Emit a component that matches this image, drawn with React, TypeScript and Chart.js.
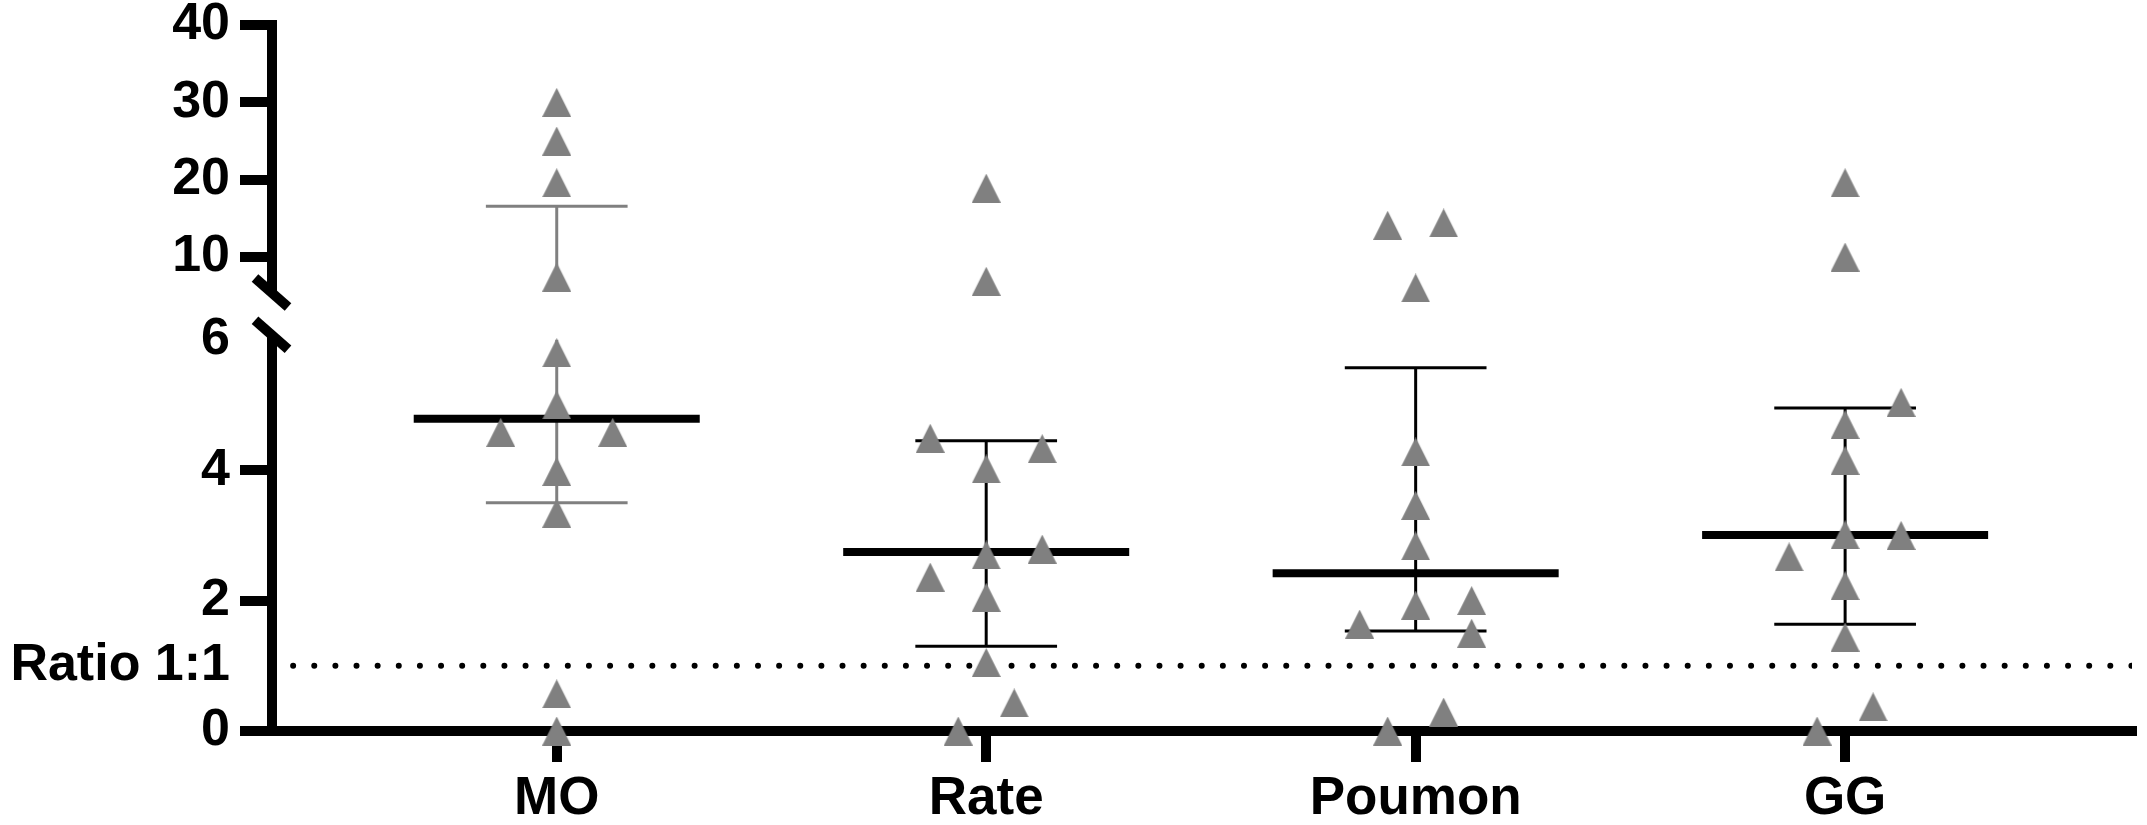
import React, { useEffect, useRef } from "react";
import { Chart, registerables } from "chart.js";

Chart.register(...registerables);

// ---------- data ----------
const categories = ["MO", "Rate", "Poumon", "GG"];

const moValues = [30, 25, 19.6, 7.4, 5.8, 5.0, 4.58, 4.58, 3.98, 3.34, 0.57, 0];
const rateValues = [18.9, 6.86, 4.49, 4.33, 4.02, 2.79, 2.7, 2.36, 2.05, 1.05, 0.43, 0];
const poumonValues = [14.4, 14.1, 6.0, 4.28, 3.46, 2.84, 2.0, 1.93, 1.64, 1.5, 0.29, 0];
const ggValues = [19.6, 10.0, 5.04, 4.7, 4.15, 3.01, 3.0, 2.67, 2.23, 1.44, 0.37, 0];

// column-scatter jitter slots (layout only, in symbol-slot units)
const moSlots = [0, 0, 0, 0, 0, 0, -2, 2, 0, 0, 0, 0];
const rateSlots = [0, 0, -2, 2, 0, 2, 0, -2, 0, 0, 1, -1];
const poumonSlots = [1, -1, 0, 0, 0, 0, 2, 0, -2, 2, 1, -1];
const ggSlots = [0, 0, 2, 0, 0, 0, 2, -2, 0, 0, 1, -1];

const lowTicks = [0, 2, 4, 6];
const highTicks = [10, 20, 30, 40];
const ratioValue = 1;
const ratioLabel = "Ratio 1:1";

// ---------- axis layout ----------
const breakValue = 6; // values >= breakValue sit on the upper segment
const lowMin = 0;
const lowMax = 6.4;
const highMin = 2.67;
const highMax = 40;
const xMin = -0.663;
const xMax = 3.668;
const upperSegmentEnd = 5.35;
const lowerSegmentStart = 6.07;
const lowPxPerUnit = 65.2;
const highPxPerUnit = 7.733;
const unmarkedLowTicks = [ratioValue, 6];

// ---------- styles ----------
const FONT = "'Liberation Sans', Arial, Helvetica, sans-serif";
const GREY = "#808080";
const errorColors = [GREY, "#000000", "#000000", "#000000"];
const SLOT = 0.0652;
const MEDIAN_HALF = 0.333;
const CAP_HALF = 0.165;

const groupValues = [moValues, rateValues, poumonValues, ggValues];
const groupSlots = [moSlots, rateSlots, poumonSlots, ggSlots];

function quantile(values: number[], p: number) {
  const s = [...values].sort((a, b) => a - b);
  const pos = (s.length + 1) * p;
  const lo = Math.floor(pos);
  const frac = pos - lo;
  if (lo < 1) return s[0];
  if (lo >= s.length) return s[s.length - 1];
  return s[lo - 1] + frac * (s[lo] - s[lo - 1]);
}

function makeTriangle() {
  const c = document.createElement("canvas");
  c.width = 29;
  c.height = 29;
  const g = c.getContext("2d")!;
  g.fillStyle = GREY;
  g.beginPath();
  g.moveTo(14.5, 0);
  g.lineTo(29, 29);
  g.lineTo(0, 29);
  g.closePath();
  g.fill();
  return c;
}

const axisBreakPlugin = {
  id: "axisBreak",
  beforeDatasetsDraw(chart: any) {
    const { ctx, scales } = chart;
    const yHigh = scales.yHigh;
    const yLow = scales.yLow;
    const x = chart.chartArea.left;
    const yTop = yHigh.getPixelForValue(upperSegmentEnd);
    const yBot = yLow.getPixelForValue(lowerSegmentStart);
    ctx.save();
    ctx.fillStyle = "#ffffff";
    ctx.fillRect(x - 8, yTop, 16, yBot - yTop);
    ctx.strokeStyle = "#000000";
    ctx.lineWidth = 10;
    ctx.lineCap = "butt";
    for (const y of [yTop, yBot]) {
      ctx.beginPath();
      ctx.moveTo(x - 17, y - 15);
      ctx.lineTo(x + 16, y + 14);
      ctx.stroke();
    }
    ctx.restore();
  },
};

function buildDatasets(tri: HTMLCanvasElement) {
  const lowPts: { x: number; y: number }[] = [];
  const highPts: { x: number; y: number }[] = [];
  groupValues.forEach((vals, gi) => {
    vals.forEach((v, k) => {
      const p = { x: gi + groupSlots[gi][k] * SLOT, y: v };
      if (v >= breakValue) highPts.push(p);
      else lowPts.push(p);
    });
  });

  const datasets: any[] = [];
  const pointCommon = {
    pointStyle: tri,
    pointRadius: 15,
    pointHoverRadius: 15,
    backgroundColor: GREY,
    borderWidth: 0,
    showLine: false,
    clip: false,
    order: 0,
  };
  datasets.push({ ...pointCommon, label: "low", data: lowPts, xAxisID: "x", yAxisID: "yLow" });
  datasets.push({ ...pointCommon, label: "high", data: highPts, xAxisID: "x", yAxisID: "yHigh" });

  const seg = (x1: number, y1: number, x2: number, y2: number, color: string, width: number, order: number) => {
    const common = {
      showLine: true,
      pointRadius: 0,
      pointHoverRadius: 0,
      borderColor: color,
      borderWidth: width,
      borderCapStyle: "butt",
      fill: false,
      tension: 0,
      clip: false,
      order,
      xAxisID: "x",
    };
    const lo = Math.min(y1, y2);
    const hi = Math.max(y1, y2);
    if (hi < breakValue) {
      datasets.push({ ...common, data: [{ x: x1, y: y1 }, { x: x2, y: y2 }], yAxisID: "yLow" });
    } else if (lo >= breakValue) {
      datasets.push({ ...common, data: [{ x: x1, y: y1 }, { x: x2, y: y2 }], yAxisID: "yHigh" });
    } else {
      datasets.push({ ...common, data: [{ x: x1, y: lo }, { x: x1, y: breakValue }], yAxisID: "yLow" });
      datasets.push({ ...common, data: [{ x: x1, y: breakValue }, { x: x1, y: hi }], yAxisID: "yHigh" });
    }
  };

  groupValues.forEach((vals, gi) => {
    const med = quantile(vals, 0.5);
    const q1 = quantile(vals, 0.25);
    const q3 = quantile(vals, 0.75);
    const col = errorColors[gi];
    seg(gi, q1, gi, q3, col, 3, 2);
    seg(gi - CAP_HALF, q1, gi + CAP_HALF, q1, col, 3, 2);
    seg(gi - CAP_HALF, q3, gi + CAP_HALF, q3, col, 3, 2);
    seg(gi - MEDIAN_HALF, med, gi + MEDIAN_HALF, med, "#000000", 8, 1);
  });

  datasets.push({
    label: "ratio",
    data: [
      { x: xMin, y: ratioValue },
      { x: xMax, y: ratioValue },
    ],
    xAxisID: "x",
    yAxisID: "yLow",
    showLine: true,
    pointRadius: 0,
    pointHoverRadius: 0,
    borderColor: "#000000",
    borderWidth: 6,
    borderDash: [0, 21.13],
    borderCapStyle: "round",
    fill: false,
    clip: 0,
    order: 3,
  });
  return datasets;
}

export default function App() {
  const ref = useRef<HTMLCanvasElement>(null);

  useEffect(() => {
    const canvas = ref.current;
    if (!canvas) return;
    const tri = makeTriangle();

    const yFont = { family: FONT, size: 52, weight: "bold" as const };
    const fitY = (s: any) => {
      s.width = 272;
      s.paddingTop = 0;
      s.paddingBottom = 0;
    };

    const chart = new Chart(canvas, {
      type: "scatter",
      data: { datasets: buildDatasets(tri) },
      plugins: [axisBreakPlugin],
      options: {
        responsive: false,
        maintainAspectRatio: false,
        animation: false,
        devicePixelRatio: 1,
        events: [],
        layout: { padding: { left: 0, top: 25, right: 15, bottom: 0 } },
        plugins: { legend: { display: false }, tooltip: { enabled: false } },
        scales: {
          x: {
            type: "linear",
            position: "bottom",
            min: xMin,
            max: xMax,
            afterBuildTicks: (s: any) => {
              s.ticks = categories.map((_, i) => ({ value: i }));
            },
            afterFit: (s: any) => {
              s.height = 94;
              s.paddingLeft = 0;
              s.paddingRight = 0;
            },
            ticks: {
              autoSkip: false,
              maxRotation: 0,
              minRotation: 0,
              padding: 6,
              color: "#000000",
              font: { family: FONT, size: 53, weight: "bold" },
              callback: (v: any) => categories[Math.round(Number(v))] ?? "",
            },
            grid: {
              drawOnChartArea: false,
              drawTicks: true,
              tickLength: 31,
              tickWidth: 10,
              tickColor: "#000000",
              lineWidth: 10,
              color: "#000000",
            },
            border: { display: true, width: 10, color: "#000000" },
          },
          yHigh: {
            type: "linear",
            position: "left",
            stack: "y",
            stackWeight: (highMax - highMin) * highPxPerUnit,
            weight: 1,
            min: highMin,
            max: highMax,
            afterBuildTicks: (s: any) => {
              s.ticks = highTicks.map((v) => ({ value: v }));
            },
            afterFit: fitY,
            ticks: {
              autoSkip: false,
              padding: 10,
              color: "#000000",
              font: yFont,
              callback: (v: any) => String(v),
            },
            grid: {
              drawOnChartArea: false,
              tickLength: 32,
              tickWidth: 10,
              tickColor: "#000000",
              lineWidth: 10,
              color: "#000000",
            },
            border: { display: true, width: 10, color: "#000000" },
          },
          yLow: {
            type: "linear",
            position: "left",
            stack: "y",
            stackWeight: (lowMax - lowMin) * lowPxPerUnit,
            weight: 0,
            min: lowMin,
            max: lowMax,
            afterBuildTicks: (s: any) => {
              s.ticks = [...lowTicks, ratioValue].sort((a, b) => a - b).map((v) => ({ value: v }));
            },
            afterFit: fitY,
            ticks: {
              autoSkip: false,
              padding: 10,
              color: "#000000",
              font: yFont,
              callback: (v: any) => (Number(v) === ratioValue ? ratioLabel : String(v)),
            },
            grid: {
              drawOnChartArea: false,
              tickLength: 32,
              tickWidth: 10,
              tickColor: (c: any) =>
                c.tick && unmarkedLowTicks.includes(c.tick.value) ? "rgba(0,0,0,0)" : "#000000",
              lineWidth: 10,
              color: "#000000",
            },
            border: { display: true, width: 10, color: "#000000" },
          },
        },
      } as any,
    });
    return () => chart.destroy();
  }, []);

  return (
    <div style={{ position: "fixed", left: 0, top: 0, width: 2147, height: 825, background: "#ffffff", overflow: "hidden" }}>
      <canvas ref={ref} width={2147} height={825} style={{ display: "block", width: 2147, height: 825 }} />
    </div>
  );
}
